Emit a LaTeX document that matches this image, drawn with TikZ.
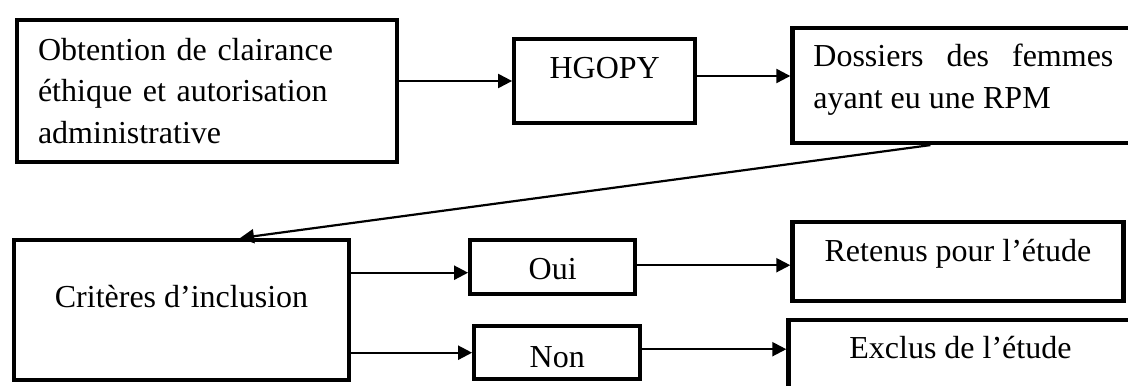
\documentclass[tikz,border=0pt]{standalone}
\usepackage{fontspec}
\setmainfont{Liberation Serif}
\usepackage{xcolor}
\usetikzlibrary{positioning, arrows.meta}

\begin{document}
\begin{tikzpicture}[x=0.5pt, y=-0.5pt, >={Triangle[length=7pt, width=7pt]},
        every edge/.append style={->}, line width=1.1pt,
        font=\fontsize{16pt}{20.6pt}\selectfont,
        box/.style={draw, rectangle, line width=2.1pt, inner sep=0pt}]

        \useasboundingbox (0,0) rectangle (1128,385);
        \clip (0,0) rectangle (1128,385);

        \node[box, minimum width=190pt, minimum height=71pt, text width=169pt,
              inner xsep=10.5pt, align=left]                      (0) at (207,91)
              {Obtention de clairance\\ éthique et autorisation\\ administrative};
        \node[box, right=56.5pt of 0, yshift=5pt, minimum width=90.5pt,
              minimum height=42pt, text height=11pt, text depth=13pt]   (1) {HGOPY};
        \node[box, right=46.5pt of 1, yshift=-2.25pt, minimum width=171pt,
              minimum height=57.5pt, text width=150pt, inner xsep=10.5pt,
              align=justify, text height=11pt, text depth=29.5pt]        (2)
              {Dossiers\hfill des\hfill femmes\\ ayant eu une RPM};
        \node[box, below=37pt of 0, xshift=-12.75pt, minimum width=167.5pt,
              minimum height=70pt, text height=11pt, text depth=14pt]   (3) {Critères d’inclusion};
        \node[box, right=58.5pt of 3, yshift=21.5pt, minimum width=82.5pt,
              minimum height=27pt, text height=12pt, text depth=0pt]    (4) {Oui};
        \node[box, right=60.5pt of 3, yshift=-21.25pt, minimum width=83pt,
              minimum height=26.5pt, text height=14.5pt, text depth=0pt] (5) {Non};
        \node[box, right=76.5pt of 4, yshift=2.75pt, minimum width=165.5pt,
              minimum height=39.5pt, text height=11pt, text depth=11.5pt] (6) {Retenus pour l’étude};
        \node[box, right=72pt of 5, yshift=-3.5pt, minimum width=172pt,
              minimum height=39.5pt, text height=11pt, text depth=12.5pt] (7) {Exclus de l’étude};

        \draw   (0.east |- 1.west)          edge    (1.west)
                ([yshift=2.5pt]1.east)      edge    ([yshift=2.5pt]1.east -| 2.west)
                ([xshift=-16.5pt]2.south)   edge    ([xshift=29.25pt]3.north)
                ([yshift=-2.75pt]3.east |- 4.west) edge ([yshift=-2.75pt]4.west)
                (3.east |- 5.west)          edge    (5.west)
                ([yshift=1pt]4.east)        edge    ([yshift=1pt]4.east -| 6.west)
                ([yshift=1.75pt]5.east)     edge    ([yshift=1.75pt]5.east -| 7.west);

\end{tikzpicture}
\end{document}
